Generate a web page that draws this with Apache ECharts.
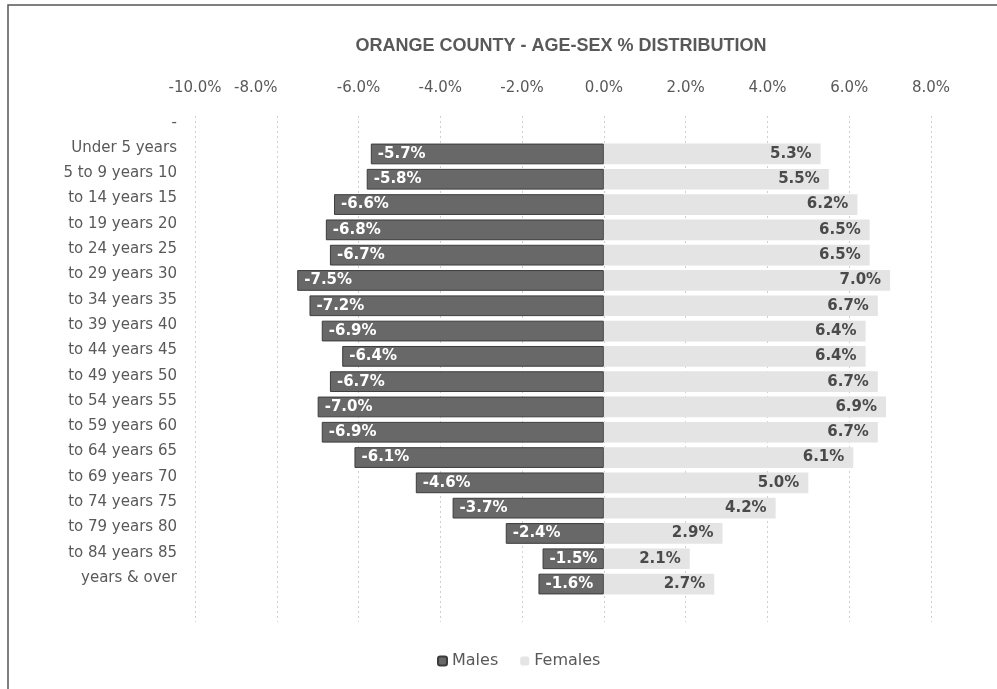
<!DOCTYPE html>
<html><head><meta charset="utf-8">
<script src="https://cdn.jsdelivr.net/npm/echarts@6/dist/echarts.min.js"></script>
<style>html,body{margin:0;padding:0;background:#fff}#c{width:997px;height:689px}</style>
</head><body><div id="c"></div>
<script>
var title = 'ORANGE COUNTY - AGE-SEX % DISTRIBUTION';
var categories = ['-', 'Under 5 years', '5 to 9 years 10', 'to 14 years 15', 'to 19 years 20', 'to 24 years 25',
  'to 29 years 30', 'to 34 years 35', 'to 39 years 40', 'to 44 years 45', 'to 49 years 50', 'to 54 years 55',
  'to 59 years 60', 'to 64 years 65', 'to 69 years 70', 'to 74 years 75', 'to 79 years 80', 'to 84 years 85',
  'years & over', ''];
var males = [-5.7, -5.8, -6.6, -6.8, -6.7, -7.5, -7.2, -6.9, -6.4, -6.7, -7.0, -6.9, -6.1, -4.6, -3.7, -2.4, -1.5, -1.6];
var females = [5.3, 5.5, 6.2, 6.5, 6.5, 7.0, 6.7, 6.4, 6.4, 6.7, 6.9, 6.7, 6.1, 5.0, 4.2, 2.9, 2.1, 2.7];
var xMin = -10, xMax = 8, xStep = 2;

function pad(arr) { return [null].concat(arr).concat([null]); }

var chart = echarts.init(document.getElementById('c'));
var txt = '#595959';
var F = 'DejaVu Sans';
chart.setOption({
  animation: false,
  backgroundColor: '#fff',
  textStyle: { fontFamily: F },
  graphic: [{ type: 'rect', shape: { x: 8, y: 5, width: 1000, height: 700 },
    style: { fill: 'none', stroke: '#555', lineWidth: 1.5 }, silent: true }],
  title: { text: title, left: 556, top: 32, textAlign: 'center',
    textStyle: { fontSize: 18, fontWeight: 'bold', color: txt, fontFamily: 'Liberation Sans' } },
  legend: { bottom: 15, left: 432, itemWidth: 9, itemHeight: 9, itemGap: 22,
    textStyle: { color: txt, fontSize: 16, fontFamily: F }, data: ['Males', 'Females'] },
  grid: { left: 195, right: 66, top: 116, bottom: 67, containLabel: false },
  xAxis: { type: 'value', position: 'top', min: xMin, max: xMax, interval: xStep,
    axisLine: { show: false }, axisTick: { show: false },
    splitLine: { show: true, lineStyle: { color: '#cfcfcf', type: [2, 3], width: 1 } },
    axisLabel: { margin: 20, color: txt, fontSize: 15, fontFamily: F,
      formatter: function (v) { var s = v.toFixed(1) + '%'; return v === -8 ? '{s|' + s + '}' : s; },
      rich: { s: { padding: [0, 42, 0, 0], fontSize: 15, color: txt, fontFamily: F } } } },
  yAxis: { type: 'category', inverse: true, data: categories,
    axisLine: { show: false }, axisTick: { show: false }, splitLine: { show: false },
    axisLabel: { margin: 18, color: txt, fontSize: 15, fontFamily: F,
      formatter: function (v) { return '{a|' + v + '}'; },
      rich: { a: { padding: [0, 0, 12, 0], fontSize: 15, color: txt, fontFamily: F } } } },
  series: [
    { name: 'Males', type: 'bar', stack: 'a', data: pad(males), barCategoryGap: '18%',
      itemStyle: { color: '#686868', borderColor: '#3c3c3c', borderWidth: 1 },
      label: { show: true, position: 'insideLeft', offset: [2, 0], color: '#fff', fontWeight: 'bold', fontSize: 15, fontFamily: F,
        formatter: function (p) { return p.value.toFixed(1) + '%'; } } },
    { name: 'Females', type: 'bar', stack: 'a', data: pad(females), barCategoryGap: '18%',
      itemStyle: { color: '#e4e4e4' },
      label: { show: true, position: 'insideRight', offset: [-4, 0], color: '#4a4a4a', fontWeight: 'bold', fontSize: 15, fontFamily: F,
        formatter: function (p) { return p.value.toFixed(1) + '%'; } } }
  ]
});
</script></body></html>
